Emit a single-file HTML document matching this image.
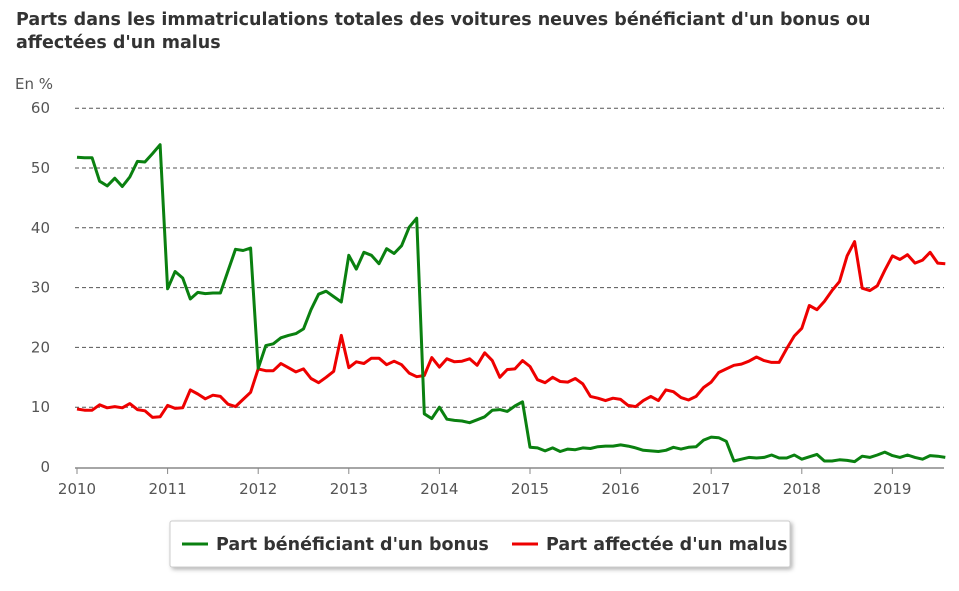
<!DOCTYPE html>
<html><head><meta charset="utf-8"><style>
body{margin:0;background:#fff;font-family:"DejaVu Sans",sans-serif}
#wrap{position:relative;width:959px;height:591px;overflow:hidden}
.title{position:absolute;left:16px;top:9px;font-size:17.5px;font-weight:bold;color:#333;line-height:23px;width:890px}
</style></head><body>
<div id="wrap">
<div class="title">Parts dans les immatriculations totales des voitures neuves bénéficiant d'un bonus ou<br>affectées d'un malus</div>
<svg id="chart" width="959" height="591" style="position:absolute;left:0;top:0"></svg>
</div>
<script>
const years = ["2010","2011","2012","2013","2014","2015","2016","2017","2018","2019"];
const yTicks = [0,10,20,30,40,50,60];
const bonusValues = [51.8,51.7,51.7,47.8,47,48.3,46.9,48.5,51.1,51,52.4,53.9,
29.8,32.7,31.6,28.1,29.2,29,29.1,29.1,32.8,36.4,36.2,36.6,
16.5,20.3,20.6,21.6,22,22.3,23.1,26.3,28.9,29.4,28.5,27.6,
35.4,33.1,35.9,35.4,34,36.5,35.7,37,40.1,41.6,8.9,8.1,
10,8,7.8,7.7,7.4,7.9,8.4,9.5,9.6,9.3,10.2,10.9,
3.3,3.2,2.7,3.2,2.6,3,2.9,3.2,3.1,3.4,3.5,3.5,
3.7,3.5,3.2,2.8,2.7,2.6,2.8,3.3,3,3.3,3.4,4.5,
5,4.9,4.3,1,1.3,1.6,1.5,1.6,2,1.5,1.5,2,
1.3,1.7,2.1,1,1,1.2,1.1,0.9,1.8,1.6,2,2.5,
1.9,1.6,2,1.6,1.3,1.9,1.8,1.6];
const malusValues = [9.7,9.5,9.5,10.4,9.9,10.1,9.9,10.6,9.6,9.4,8.3,8.4,
10.3,9.8,9.9,12.9,12.2,11.4,12,11.8,10.5,10.1,11.3,12.5,
16.4,16.1,16.1,17.3,16.6,15.9,16.4,14.8,14.1,15,16,22,
16.6,17.6,17.3,18.2,18.2,17.1,17.7,17.1,15.7,15.1,15.3,18.3,
16.7,18.1,17.6,17.7,18.1,17,19.1,17.8,15,16.3,16.4,17.8,
16.8,14.6,14.1,15,14.3,14.2,14.8,13.9,11.8,11.5,11.1,11.5,
11.3,10.3,10.1,11.1,11.8,11.1,12.9,12.6,11.6,11.2,11.8,13.3,
14.2,15.8,16.4,17,17.2,17.7,18.4,17.8,17.5,17.5,19.8,21.9,
23.2,27,26.3,27.7,29.5,31,35.3,37.7,29.9,29.5,30.3,32.9,
35.3,34.7,35.5,34.1,34.6,35.9,34.1,34];
const seriesNames = ["Part bénéficiant d'un bonus","Part affectée d'un malus"];

const NS="http://www.w3.org/2000/svg";
const FONT="DejaVu Sans";
const svg=document.getElementById('chart');
const X0=77, YEARW=90.6, Y0=467, UNIT=5.98;
const xScale=m=>X0+m*YEARW/12;
const yScale=v=>Y0-v*UNIT;
function mk(tag,attrs,parent){const e=document.createElementNS(NS,tag);for(const k in attrs)e.setAttribute(k,attrs[k]);(parent||svg).appendChild(e);return e;}

const yl=mk('text',{x:15,y:89,'font-size':15,fill:'#555','font-family':FONT});
yl.textContent='En %';



yTicks.forEach(v=>{
  const y=yScale(v);
  if(v>0){
    const g=mk('line',{x1:75,x2:944,y1:y,y2:y,stroke:'#555','stroke-dasharray':'4,3','stroke-width':1});
    
    
  }
  const t=mk('text',{x:50,y:y+5,'font-size':15,fill:'#555','text-anchor':'end','font-family':FONT});
  t.textContent=v;
  
  
});
const ax=mk('line',{x1:75,x2:944,y1:Y0+1,y2:Y0+1,stroke:'#888','stroke-width':1.5});


years.forEach((yr,i)=>{
  const x=xScale(i*12);
  const tk=mk('line',{x1:x,x2:x,y1:Y0+1,y2:Y0+7,stroke:'#888'});
  
  
  const t=mk('text',{x:x,y:Y0+27,'font-size':15,fill:'#555','text-anchor':'middle','font-family':FONT});
  t.textContent=yr;
  
  
});
function drawLine(vals,color,name){
  const d=vals.map((v,i)=>(i?'L':'M')+xScale(i).toFixed(1)+','+yScale(v).toFixed(1)).join(' ');
  const p=mk('path',{d:d,fill:'none',stroke:color,'stroke-width':3,'stroke-linejoin':'round'});
  
  
}
drawLine(malusValues,'#ee0000','malus-line');
drawLine(bonusValues,'#0a8010','bonus-line');

const defs=mk('defs',{});
const f=mk('filter',{id:'sh',x:'-5%',y:'-20%',width:'110%',height:'150%'},defs);
mk('feDropShadow',{dx:2,dy:2,stdDeviation:2,'flood-color':'#000','flood-opacity':0.3},f);
const lg=mk('g',{});


mk('rect',{x:170,y:521,width:620,height:46,fill:'#fff',stroke:'#ccc',filter:'url(#sh)',rx:2},lg);
const entries=[[182,'#0a8010',seriesNames[0]],[512,'#ee0000',seriesNames[1]]];
entries.forEach(([x,c,n],i)=>{
  const g=mk('g',{},lg);
  
  
  mk('line',{x1:x,x2:x+26,y1:544,y2:544,stroke:c,'stroke-width':3},g);
  const t=mk('text',{x:x+34,y:550,'font-size':17.5,'font-weight':'bold',fill:'#333','font-family':FONT},g);
  t.textContent=n;
});
</script>
</body></html>
